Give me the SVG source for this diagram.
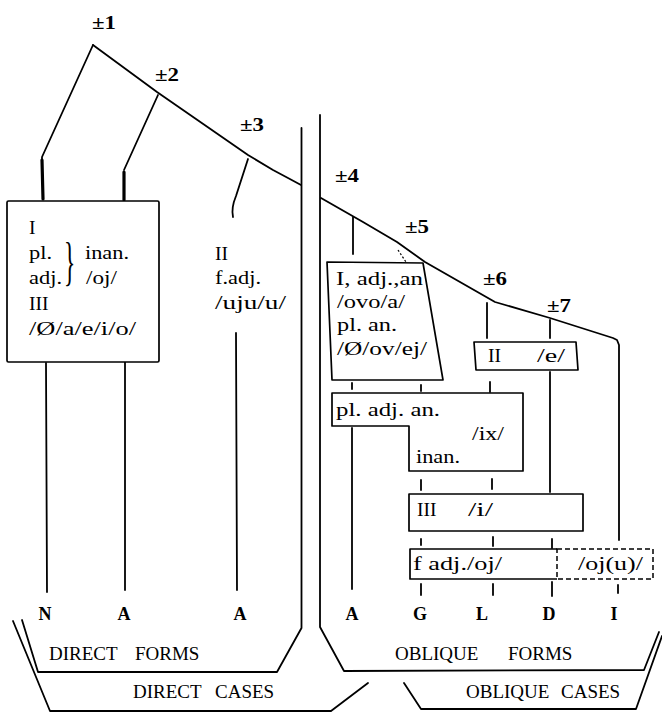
<svg xmlns="http://www.w3.org/2000/svg" width="662" height="712" viewBox="0 0 662 712">
<style>
.ln{fill:none;stroke:#000;stroke-width:1.8;stroke-linecap:round;stroke-linejoin:round}
.thk{fill:none;stroke:#000;stroke-width:3.2;stroke-linecap:round}
.bx{fill:#fff;stroke:#000;stroke-width:1.7;stroke-linejoin:round}
.dsh{fill:none;stroke:#000;stroke-width:1.5;stroke-dasharray:5 3}
.t{font-family:"Liberation Serif","Times New Roman",serif;font-size:19.5px;fill:#000}
.br{font-family:"Liberation Serif","Times New Roman",serif;font-size:52px;fill:#000}
.pm{font-family:"Liberation Serif","Times New Roman",serif;font-size:19px;font-weight:bold;fill:#000}
.cs{font-family:"Liberation Serif","Times New Roman",serif;font-size:18px;font-weight:bold;fill:#000;text-anchor:middle}
.cap{font-family:"Liberation Serif","Times New Roman",serif;font-size:19px;fill:#000}
</style>
<rect width="662" height="712" fill="#fff"/>
<g id="connectors">
  <polyline class="ln" points="93,45 157,92 248,155 273,170 288,178 301,185"/>
  <polyline class="ln" points="93,45 42,157 42,162"/>
  <line class="thk" x1="42" y1="160" x2="43" y2="199"/>
  <polyline class="ln" points="158,95 124,170"/>
  <line class="thk" x1="124" y1="172" x2="124" y2="200"/>
  <path class="ln" d="M248,159 L236,196 Q231,208 233,217"/>
  <line class="ln" x1="46" y1="363" x2="47" y2="592"/>
  <line class="ln" x1="125" y1="362" x2="125" y2="590"/>
  <line class="ln" x1="236" y1="333" x2="237" y2="590"/>
  <polyline class="ln" points="321,198 363,222 397,242 425,262 495,302 550,318 613,338 617,340 619,345 619,540"/>
  <line class="ln" x1="353" y1="217" x2="353" y2="254"/>
  <line x1="398" y1="250" x2="406" y2="262" stroke="#000" stroke-width="1.2" stroke-dasharray="2 2"/>
  <line class="ln" x1="487" y1="303" x2="487" y2="338"/>
  <line class="ln" x1="550" y1="320" x2="550" y2="338"/>
  <line class="ln" x1="352" y1="383" x2="352" y2="389"/>
  <line class="ln" x1="421" y1="385" x2="421" y2="391"/>
  <line class="ln" x1="490" y1="382" x2="490" y2="392"/>
  <line class="ln" x1="550" y1="372" x2="550" y2="492"/>
  <line class="ln" x1="352" y1="428" x2="352" y2="589"/>
  <line class="ln" x1="421" y1="480" x2="421" y2="490"/>
  <line class="ln" x1="492" y1="479" x2="492" y2="489"/>
  <line class="ln" x1="421" y1="539" x2="421" y2="545"/>
  <line class="ln" x1="493" y1="537" x2="493" y2="546"/>
  <line class="ln" x1="552" y1="539" x2="552" y2="548"/>
  <line class="ln" x1="421" y1="584" x2="421" y2="595"/>
  <line class="ln" x1="493" y1="584" x2="493" y2="595"/>
  <line class="ln" x1="552" y1="582" x2="552" y2="596"/>
  <line class="ln" x1="618" y1="585" x2="618" y2="593"/>
</g>
<g id="n1"><text class="pm" x="92" y="29" textLength="24" lengthAdjust="spacingAndGlyphs">±1</text></g>
<g id="n2"><text class="pm" x="155" y="81" textLength="24" lengthAdjust="spacingAndGlyphs">±2</text></g>
<g id="n3"><text class="pm" x="240" y="131" textLength="24" lengthAdjust="spacingAndGlyphs">±3</text></g>
<g id="n4"><text class="pm" x="335" y="182" textLength="24" lengthAdjust="spacingAndGlyphs">±4</text></g>
<g id="n5"><text class="pm" x="405" y="233" textLength="24" lengthAdjust="spacingAndGlyphs">±5</text></g>
<g id="n6"><text class="pm" x="483" y="285" textLength="24" lengthAdjust="spacingAndGlyphs">±6</text></g>
<g id="n7"><text class="pm" x="547" y="312" textLength="24" lengthAdjust="spacingAndGlyphs">±7</text></g>
<g id="box-direct-1">
  <rect class="bx" x="7" y="201" width="152" height="161" rx="1.5"/>
  <text class="t" x="29" y="234">I</text>
  <text class="t" x="29" y="259" textLength="23" lengthAdjust="spacingAndGlyphs">pl.</text>
  <text class="t" x="29" y="284" textLength="33" lengthAdjust="spacingAndGlyphs">adj.</text>
  <text class="br" transform="translate(64,279) scale(0.45,1)">}</text>
  <text class="t" x="85" y="259" textLength="44" lengthAdjust="spacingAndGlyphs">inan.</text>
  <text class="t" x="86" y="284" textLength="31" lengthAdjust="spacingAndGlyphs">/oj/</text>
  <text class="t" x="29" y="310">III</text>
  <text class="t" x="29" y="335" textLength="107" lengthAdjust="spacingAndGlyphs">/Ø/a/e/i/o/</text>
</g>
<g id="box-direct-2">
  <text class="t" x="215" y="260">II</text>
  <text class="t" x="215" y="284" textLength="46" lengthAdjust="spacingAndGlyphs">f.adj.</text>
  <text class="t" x="215" y="309" textLength="71" lengthAdjust="spacingAndGlyphs">/uju/u/</text>
</g>
<g id="box-oblique-1">
  <polygon class="bx" points="327,262 423,263 443,380 332,380"/>
  <text class="t" x="336" y="285" textLength="87" lengthAdjust="spacingAndGlyphs">I, adj.,an</text>
  <text class="t" x="337" y="308" textLength="68" lengthAdjust="spacingAndGlyphs">/ovo/a/</text>
  <text class="t" x="337" y="331" textLength="60" lengthAdjust="spacingAndGlyphs">pl. an.</text>
  <text class="t" x="337" y="355" textLength="90" lengthAdjust="spacingAndGlyphs">/Ø/ov/ej/</text>
</g>
<g id="box-oblique-2">
  <polygon class="bx" points="474,342 576,342 578,370 476,370"/>
  <text class="t" x="488" y="362">II</text>
  <text class="t" x="537" y="362" textLength="28" lengthAdjust="spacingAndGlyphs">/e/</text>
</g>
<g id="box-oblique-3">
  <polygon class="bx" points="332,393 523,393 523,471 409,471 409,426 332,426"/>
  <text class="t" x="336" y="416" textLength="104" lengthAdjust="spacingAndGlyphs">pl. adj. an.</text>
  <text class="t" x="472" y="440" textLength="32" lengthAdjust="spacingAndGlyphs">/ix/</text>
  <text class="t" x="416" y="463" textLength="44" lengthAdjust="spacingAndGlyphs">inan.</text>
</g>
<g id="box-oblique-4">
  <rect class="bx" x="409" y="494" width="174" height="37"/>
  <text class="t" x="417" y="516">III</text>
  <text class="t" x="468" y="516" textLength="25" lengthAdjust="spacingAndGlyphs">/i/</text>
</g>
<g id="box-oblique-5">
  <path class="bx" d="M557,549 H410 V579 H557"/>
  <text class="t" x="413" y="570" textLength="89" lengthAdjust="spacingAndGlyphs">f adj./oj/</text>
</g>
<g id="box-oblique-6">
  <rect class="dsh" x="557" y="549" width="96" height="30"/>
  <text class="t" x="578" y="570" textLength="65" lengthAdjust="spacingAndGlyphs">/oj(u)/</text>
</g>
<g id="cases">
  <text class="cs" x="45" y="620">N</text>
  <text class="cs" x="124" y="620">A</text>
  <text class="cs" x="240" y="620">A</text>
  <text class="cs" x="352" y="620">A</text>
  <text class="cs" x="420" y="620">G</text>
  <text class="cs" x="482" y="620">L</text>
  <text class="cs" x="549" y="620">D</text>
  <text class="cs" x="614" y="620">I</text>
</g>
<g id="direct-forms">
  <polyline class="ln" points="301.5,128 301.5,628 277,672 38,672 22,620"/>
  <text class="cap" y="660"><tspan x="49">DIRECT</tspan><tspan x="135">FORMS</tspan></text>
</g>
<g id="direct-cases">
  <polyline class="ln" points="13,621 50,711 331,711 368,683"/>
  <text class="cap" y="698"><tspan x="133">DIRECT</tspan><tspan x="215">CASES</tspan></text>
</g>
<g id="oblique-forms">
  <polyline class="ln" points="320,115 320,627 344,671 644,670 659,632"/>
  <text class="cap" y="660"><tspan x="395">OBLIQUE</tspan><tspan x="508">FORMS</tspan></text>
</g>
<g id="oblique-cases">
  <polyline class="ln" points="404,683 421,709 636,709 662,636"/>
  <text class="cap" y="698"><tspan x="466">OBLIQUE</tspan><tspan x="561">CASES</tspan></text>
</g>
</svg>
